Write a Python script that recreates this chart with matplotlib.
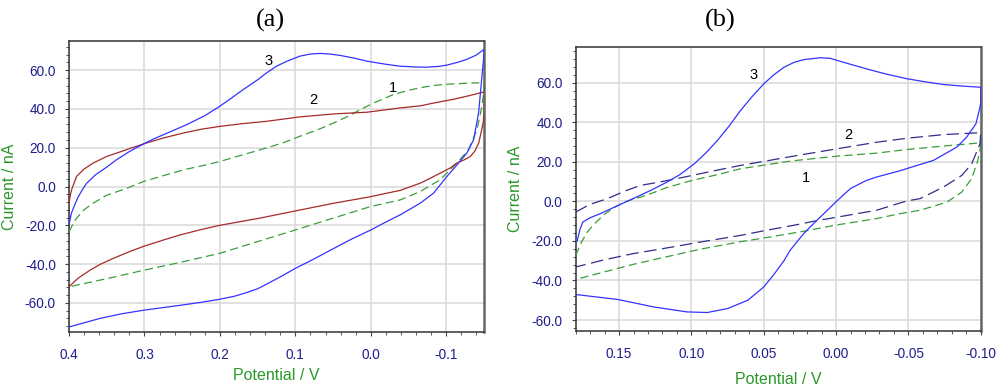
import matplotlib
matplotlib.use("Agg")
import matplotlib.pyplot as plt
from matplotlib.ticker import FixedLocator, FixedFormatter, MultipleLocator

plt.rcParams['font.family'] = ['Liberation Sans', 'DejaVu Sans']
plt.rcParams['axes.unicode_minus'] = False

# ---------------- Panel (a) data ----------------
a_c3_V = [0.400, 0.397, 0.393, 0.388, 0.382, 0.377, 0.365, 0.350, 0.337, 0.320, 0.300, 0.288, 0.270,
          0.244, 0.220, 0.200, 0.185, 0.169, 0.150, 0.138, 0.125, 0.111, 0.094, 0.080, 0.067, 0.055,
          0.041, 0.020, 0.005, -0.020, -0.039, -0.060, -0.074, -0.090, -0.101, -0.115, -0.127, -0.140,
          -0.150,
          -0.1495, -0.1473, -0.1428, -0.1362, -0.1274, -0.1163, -0.1009, -0.0832, -0.0655, -0.039,
          -0.020, 0.000, 0.025, 0.049, 0.075, 0.100, 0.120, 0.138, 0.150, 0.164, 0.180, 0.200, 0.225,
          0.252, 0.300, 0.330, 0.359, 0.400]
a_c3_I = [-19.8, -14.0, -10.0, -5.5, -1.5, 1.5, 6.0, 10.0, 13.8, 18.0, 22.2, 24.5, 27.5,
          31.9, 36.5, 41.4, 45.5, 50.0, 55.0, 58.6, 62.0, 64.6, 67.2, 68.3, 68.6, 68.3,
          67.6, 66.0, 64.6, 63.0, 62.0, 61.6, 61.5, 61.9, 62.6, 64.0, 65.5, 67.8,
          70.7,
          66.0, 56.9, 37.9, 24.1, 17.3, 12.1, 5.2, -3.4, -8.6, -14.6,
          -18.3, -22.4, -27.0, -31.9, -37.3, -42.2, -46.6, -50.3, -52.7, -54.6, -56.5, -58.1, -59.7,
          -61.2, -63.7, -65.6, -68.0, -72.4]

a_c2_V = [0.400, 0.398, 0.396, 0.393, 0.390, 0.380, 0.368, 0.350, 0.337, 0.320, 0.300, 0.275, 0.248,
          0.225, 0.200, 0.170, 0.138, 0.115, 0.094, 0.070, 0.049, 0.025, 0.005, -0.015, -0.039,
          -0.066, -0.083, -0.110, -0.130, -0.1505,
          -0.1505, -0.150, -0.149, -0.147, -0.143, -0.138, -0.132, -0.123, -0.114, -0.105, -0.092,
          -0.080, -0.066, -0.039, 0.005, 0.049, 0.100, 0.147, 0.200, 0.225, 0.253, 0.275, 0.300,
          0.320, 0.341, 0.358, 0.372, 0.388, 0.400]
a_c2_I = [-8.6, -4.0, -1.0, 2.0, 5.2, 9.0, 12.1, 15.5, 17.2, 19.5, 22.1, 25.0, 27.6,
          29.5, 31.0, 32.4, 33.6, 34.8, 35.9, 36.7, 37.4, 37.9, 38.3, 39.3, 40.5,
          41.6, 43.0, 45.0, 46.8, 48.8,
          44.0, 38.0, 33.0, 29.3, 22.4, 18.3, 15.5, 13.6, 12.1, 9.5, 6.9,
          4.5, 1.8, -2.0, -5.6, -8.6, -12.6, -16.3, -20.0, -22.2, -25.0, -27.6, -30.7,
          -33.6, -37.0, -40.0, -43.1, -47.3, -51.7]

a_c1_V = [0.400, 0.395, 0.390, 0.380, 0.368, 0.350, 0.324, 0.301, 0.275, 0.248, 0.220, 0.200, 0.170,
          0.138, 0.115, 0.094, 0.070, 0.049, 0.030, 0.018, -0.004, -0.030, -0.050, -0.066, -0.080,
          -0.096, -0.110, -0.130, -0.150,
          -0.1495, -0.1473, -0.1407, -0.1296, -0.114, -0.092, -0.0655, -0.039, 0.000, 0.050, 0.100,
          0.150, 0.200, 0.250, 0.300, 0.350, 0.400]
a_c1_I = [-23.3, -19.5, -16.3, -12.0, -8.6, -4.5, -1.0, 2.6, 5.6, 8.6, 11.0, 12.9, 16.3,
          19.9, 22.7, 25.9, 29.3, 32.8, 36.2, 38.8, 43.1, 47.4, 49.6, 50.9, 51.9,
          52.6, 52.9, 53.3, 53.5,
          48.0, 41.4, 29.3, 19.0, 12.1, 3.5, -2.6, -6.9, -10.3, -16.3, -22.4,
          -28.4, -34.4, -38.9, -43.1, -47.5, -51.7]

# ---------------- Panel (b) data ----------------
b_c3_V = [0.179, 0.177, 0.175, 0.170, 0.163, 0.149, 0.140, 0.128, 0.117, 0.108, 0.098, 0.090, 0.082,
          0.074, 0.066, 0.058, 0.050, 0.043, 0.036, 0.029, 0.022, 0.011, 0.004, -0.001, -0.010,
          -0.021, -0.035, -0.049, -0.062, -0.074, -0.087, -0.100,
          -0.100, -0.0995, -0.0967, -0.0903, -0.0834, -0.0673, -0.053, -0.0443, -0.028, -0.021,
          -0.010, -0.001, 0.006, 0.0133, 0.0224, 0.0317, 0.036, 0.043, 0.050, 0.061, 0.075, 0.089,
          0.103, 0.126, 0.151, 0.180]
b_c3_I = [-20.0, -14.0, -10.4, -8.3, -6.2, -1.5, 1.5, 5.6, 9.7, 13.5, 19.0, 24.5, 30.8,
          38.0, 46.0, 53.0, 59.4, 64.0, 67.8, 70.3, 71.7, 72.6, 72.3, 71.2, 69.3,
          67.0, 64.3, 62.0, 60.4, 59.1, 58.3, 57.7,
          50.0, 47.6, 39.2, 32.5, 27.4, 20.7, 17.5, 15.5, 12.3, 10.6,
          6.5, 0.5, -4.5, -9.6, -16.3, -24.7, -30.0, -37.0, -43.3, -50.0, -54.2, -56.2,
          -55.9, -53.4, -49.6, -47.1]

b_c2_V = [0.180, 0.170, 0.158, 0.145, 0.135, 0.124, 0.117, 0.110, 0.095, 0.082, 0.066, 0.050, 0.030,
          0.000, -0.028, -0.050, -0.075, -0.100,
          -0.100, -0.0995, -0.0938, -0.0869, -0.0742, -0.0581, -0.049, -0.0443, -0.028, 0.0017,
          0.015, 0.030, 0.048, 0.066, 0.094, 0.115, 0.140, 0.160, 0.180]
b_c2_I = [-5.4, -1.5, 1.4, 5.5, 8.1, 9.5, 10.5, 11.5, 13.8, 15.8, 18.2, 20.2, 22.8,
          26.5, 29.9, 32.0, 33.8, 34.7,
          34.0, 29.1, 19.0, 13.1, 7.2, 1.4, 0.2, -0.8, -4.5, -8.3,
          -10.0, -12.2, -14.6, -17.2, -20.6, -23.3, -26.4, -29.5, -33.2]

b_c1_V = [0.180, 0.176, 0.172, 0.167, 0.160, 0.153, 0.145, 0.135, 0.124, 0.117, 0.100, 0.082, 0.066,
          0.050, 0.030, 0.000, -0.028, -0.050, -0.075, -0.100,
          -0.100, -0.0995, -0.098, -0.0938, -0.0869, -0.0766, -0.0581, -0.0443, -0.028, 0.001,
          0.020, 0.048, 0.066, 0.094, 0.140, 0.180]
b_c1_I = [-27.3, -20.6, -15.5, -11.3, -6.5, -2.9, 0.0, 2.2, 5.0, 7.0, 10.5, 13.5, 16.5,
          18.3, 20.5, 22.8, 24.4, 26.3, 28.0, 29.6,
          29.6, 26.0, 20.7, 11.5, 4.7, -0.4, -4.5, -6.2, -8.7, -12.1,
          -14.8, -18.3, -20.4, -24.2, -31.8, -39.5]

# ticks
a_xticks = [0.4, 0.3, 0.2, 0.1, 0.0, -0.1]
a_xticklabels = ['0.4', '0.3', '0.2', '0.1', '0.0', '-0.1']
b_xticks = [0.15, 0.10, 0.05, 0.00, -0.05, -0.10]
b_xticklabels = ['0.15', '0.10', '0.05', '0.00', '-0.05', '-0.10']
yticks = [-60, -40, -20, 0, 20, 40, 60]
yticklabels = ['-60.0', '-40.0', '-20.0', '0.0', '20.0', '40.0', '60.0']

# curve labels
a_lab_text = ['3', '2', '1']
a_lab_V = [0.136, 0.0764, -0.0297]
a_lab_I = [64.5, 44.8, 51.0]
b_lab_text = ['3', '2', '1']
b_lab_V = [0.0571, -0.0083, 0.0205]
b_lab_I = [64.1, 33.3, 11.6]

# ---------------- styling ----------------
BLUE = '#3333ff'
RED = '#a52a2a'
GREEN = '#3a9e3a'
NAVY = '#2e2e8c'
TICKCOL = '#1e1e8c'
LABCOL = '#2a982a'
GRIDCOL = '#d9d9d9'

W, H = 1000, 392
fig = plt.figure(figsize=(10, 3.92), dpi=100)


def px_axes(l, t, r, b):
    return fig.add_axes([l / W, 1 - b / H, (r - l) / W, (b - t) / H])


def style(ax, xt, xtl, xminor):
    ax.xaxis.set_major_locator(FixedLocator(xt))
    ax.xaxis.set_major_formatter(FixedFormatter(xtl))
    ax.yaxis.set_major_locator(FixedLocator(yticks))
    ax.yaxis.set_major_formatter(FixedFormatter(yticklabels))
    ax.xaxis.set_minor_locator(MultipleLocator(xminor))
    ax.yaxis.set_minor_locator(MultipleLocator(4))
    ax.grid(True, which='major', color=GRIDCOL, lw=1.1, zorder=0)
    ax.set_axisbelow(True)
    ax.tick_params(which='major', direction='out', length=3.2, width=0.8, color='#444444',
                   labelcolor=TICKCOL, labelsize=9.8)
    ax.tick_params(which='minor', direction='out', length=2.0, width=0.7, color='#555555')
    ax.tick_params(axis='x', which='major', pad=8.3)
    ax.tick_params(axis='y', which='major', pad=6.3)
    for s in ['left', 'top', 'bottom']:
        ax.spines[s].set_color('#333333')
        ax.spines[s].set_linewidth(1.1)
    ax.spines['right'].set_color('#666666')
    ax.spines['right'].set_linewidth(1.8)


# Panel (a)
axa = px_axes(69, 41, 484, 332)
axa.plot(a_c1_V, a_c1_I, color=GREEN, lw=0.9, dashes=(6.5, 3.5), zorder=3)
axa.plot(a_c2_V, a_c2_I, color=RED, lw=0.9, zorder=3)
axa.plot(a_c3_V, a_c3_I, color=BLUE, lw=0.9, zorder=4)
axa.set_xlim(0.4, -0.15)
axa.set_ylim(-75, 75)
style(axa, a_xticks, a_xticklabels, 0.02)
for t, v, i in zip(a_lab_text, a_lab_V, a_lab_I):
    axa.text(v, i, t, ha='center', va='center', fontsize=10.5, color='black')

# Panel (b)
axb = px_axes(575.7, 46.7, 980.7, 330.7)
axb.plot(b_c1_V, b_c1_I, color=GREEN, lw=0.9, dashes=(6.5, 3.5), zorder=3)
axb.plot(b_c2_V, b_c2_I, color=NAVY, lw=0.9, dashes=(10, 4.5), zorder=3)
axb.plot(b_c3_V, b_c3_I, color=BLUE, lw=0.9, zorder=4)
axb.set_xlim(0.18, -0.10)
axb.set_ylim(-65.4, 78.2)
style(axb, b_xticks, b_xticklabels, 0.01)
for t, v, i in zip(b_lab_text, b_lab_V, b_lab_I):
    axb.text(v, i, t, ha='center', va='center', fontsize=10.5, color='black')

# Titles and axis labels
fig.text(270 / W, 1 - 20 / H, '(a)', ha='center', va='center', fontsize=19,
         family=['Liberation Serif', 'DejaVu Serif'])
fig.text(720.7 / W, 1 - 20 / H, '(b)', ha='center', va='center', fontsize=19,
         family=['Liberation Serif', 'DejaVu Serif'])
fig.text(276.7 / W, 1 - 375 / H, 'Potential / V', ha='center', va='center', fontsize=11.5, color=LABCOL)
fig.text(778 / W, 1 - 379 / H, 'Potential / V', ha='center', va='center', fontsize=11.5, color=LABCOL)
fig.text(10 / W, 1 - 186.5 / H, 'Current / nA', ha='center', va='center', rotation=90,
         fontsize=11.5, color=LABCOL)
fig.text(516 / W, 1 - 188.7 / H, 'Current / nA', ha='center', va='center', rotation=90,
         fontsize=11.5, color=LABCOL)

fig.savefig('out.png', dpi=100)
